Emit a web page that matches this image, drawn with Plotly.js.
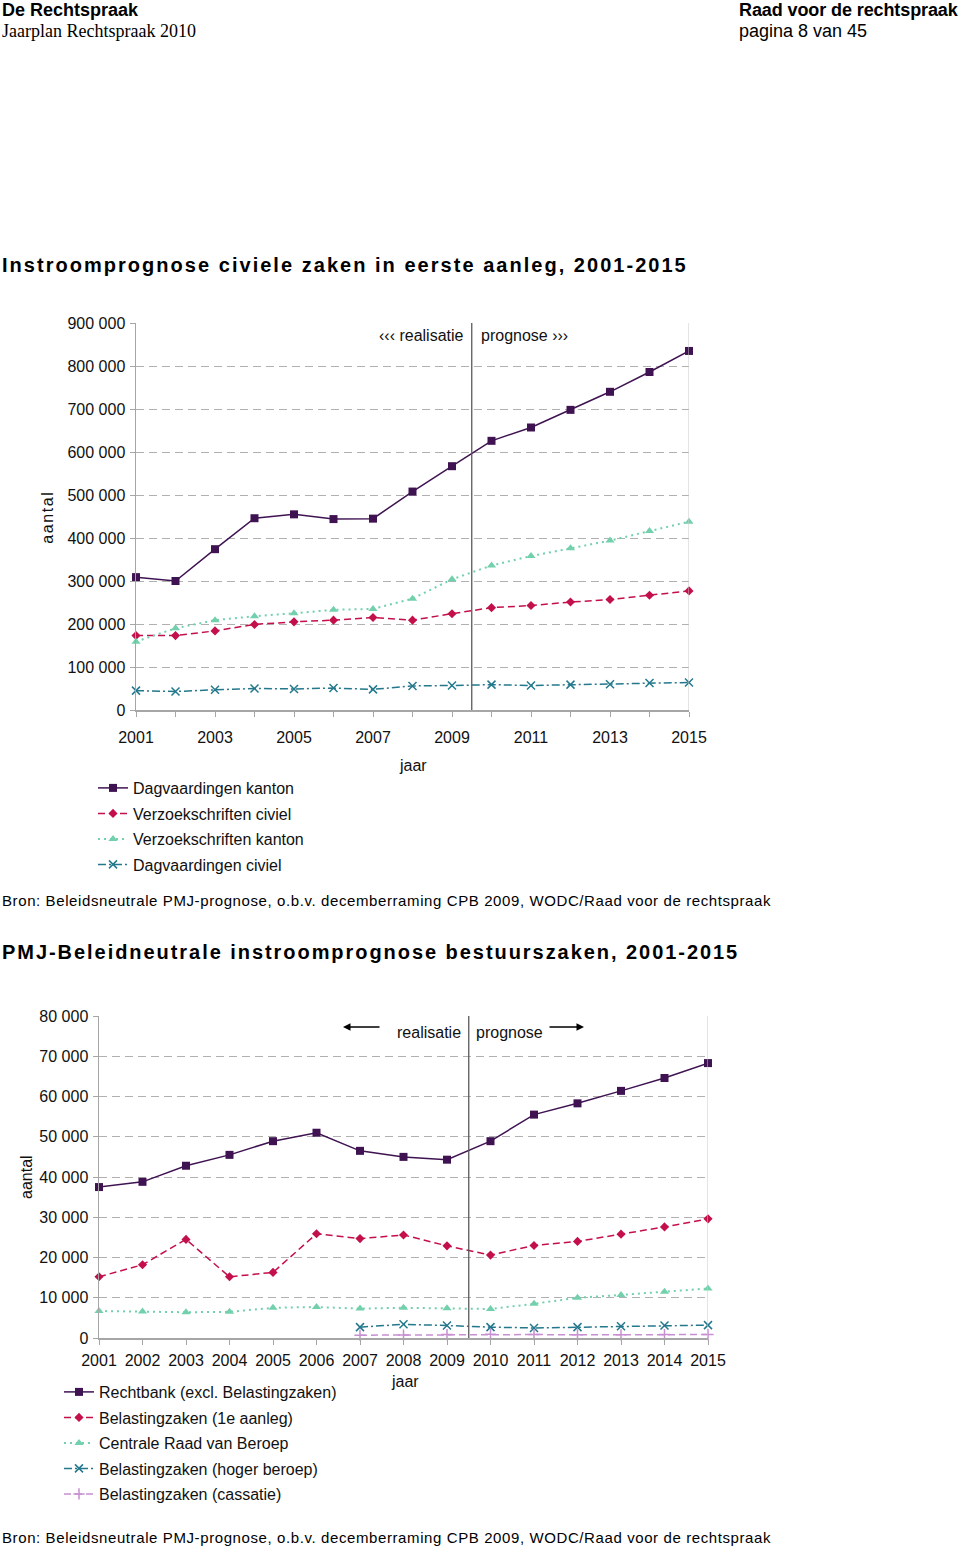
<!DOCTYPE html>
<html>
<head>
<meta charset="utf-8">
<script src="https://cdn.plot.ly/plotly-3.0.1.min.js"></script>
<style>
  html, body { margin:0; padding:0; background:#fff; }
  body { width:960px; height:1549px; position:relative; overflow:hidden; }
  #chart { position:absolute; left:0; top:0; width:960px; height:1549px; }
  .txt { position:absolute; white-space:nowrap; color:#000; font-family:"Liberation Sans", Arial, sans-serif; z-index:5; }
  .annotation[data-index="0"] text { letter-spacing:1.6px; }
</style>
</head>
<body>
<div class="txt" style="left:2px;top:1px;font-size:18px;line-height:18px;font-weight:bold;">De Rechtspraak</div>
<div class="txt" style="left:2px;top:22px;font-size:18px;line-height:18px;font-family:'Liberation Serif','Times New Roman',serif;">Jaarplan Rechtspraak 2010</div>
<div class="txt" style="left:739px;top:1px;font-size:18px;line-height:18px;font-weight:bold;letter-spacing:-0.1px;">Raad voor de rechtspraak</div>
<div class="txt" style="left:739px;top:22px;font-size:18px;line-height:18px;">pagina 8 van 45</div>

<div class="txt" style="left:2px;top:255px;font-size:20px;line-height:20px;font-weight:bold;letter-spacing:2.03px;">Instroomprognose civiele zaken in eerste aanleg, 2001-2015</div>
<div class="txt" style="left:2px;top:893px;font-size:15px;line-height:15px;letter-spacing:0.6px;">Bron: Beleidsneutrale PMJ-prognose, o.b.v. decemberraming CPB 2009, WODC/Raad voor de rechtspraak</div>
<div class="txt" style="left:2px;top:942px;font-size:20px;line-height:20px;font-weight:bold;letter-spacing:1.95px;">PMJ-Beleidneutrale instroomprognose bestuurszaken, 2001-2015</div>
<div class="txt" style="left:2px;top:1530px;font-size:15px;line-height:15px;letter-spacing:0.6px;">Bron: Beleidsneutrale PMJ-prognose, o.b.v. decemberraming CPB 2009, WODC/Raad voor de rechtspraak</div>

<div id="chart"></div>
<script>
// ---------- data ----------
var years = [2001,2002,2003,2004,2005,2006,2007,2008,2009,2010,2011,2012,2013,2014,2015];

// chart 1: Instroomprognose civiele zaken in eerste aanleg
var dagvaardingenKanton    = [309000,300000,374000,446000,455000,444000,445000,508000,567000,626000,657000,698000,740000,786000,835000];
var verzoekschriftenCiviel = [173000,173000,184000,199000,205000,209000,215000,209000,224000,238000,243000,251000,257000,267000,277000];
var verzoekschriftenKanton = [159000,190000,209000,218000,225000,233000,235000,259000,304000,336000,358000,376000,394000,416000,438000];
var dagvaardingenCiviel    = [45000,43000,47000,50000,49000,51000,48000,56000,57000,59000,57000,59000,60000,63000,64000];

// chart 2: PMJ-Beleidneutrale instroomprognose bestuurszaken
var rechtbank      = [37500,38800,42800,45500,48900,51000,46500,45000,44300,48900,55500,58300,61400,64600,68300];
var belasting1e    = [15200,18200,24500,15200,16300,25900,24700,25600,22900,20600,23000,24000,25800,27600,29600];
var centraleRaad   = [6700,6600,6400,6500,7500,7700,7300,7500,7400,7200,8500,10000,10700,11500,12300];
var belastingHoger = [null,null,null,null,null,null,2700,3400,3100,2700,2500,2700,2900,3100,3200];
var belastingCass  = [null,null,null,null,null,null,700,750,850,950,850,800,800,850,850];

var names1 = ['Dagvaardingen kanton','Verzoekschriften civiel','Verzoekschriften kanton','Dagvaardingen civiel'];
var names2 = ['Rechtbank (excl. Belastingzaken)','Belastingzaken (1e aanleg)','Centrale Raad van Beroep','Belastingzaken (hoger beroep)','Belastingzaken (cassatie)'];
var splitYear = 2009.5;

// ---------- styling ----------
var W = 960, H = 1549;
function px(x){ return x / W; }
function py(y){ return 1 - y / H; }
var FONT = '"Liberation Sans", Arial, sans-serif';
var PURPLE = '#3f1351', RED = '#c4104a', GREEN = '#72d0ac', TEAL = '#23788c', LILAC = '#c890d2';
var DASH = '7px,4px', DOT = '2px,4px', DASHDOT = '8px,3px,2px,3px';

function tr(x, y, name, color, dash, width, symbol, size, xa, ya, leg, grp){
  var m = {symbol:symbol, size:size, color:color};
  if (symbol.indexOf('thin') >= 0) m.line = {color:color, width:1.5};
  return {x:x, y:y, name:name, type:'scatter', mode:'lines+markers',
    line:{color:color, dash:dash, width:width}, marker:m,
    xaxis:xa, yaxis:ya, legend:leg, legendgroup:grp, cliponaxis:false,
    connectgaps:false, hoverinfo:'skip'};
}

var data = [
  tr(years, dagvaardingenKanton, names1[0], PURPLE, 'solid', 1.5, 'square', 8, 'x', 'y', 'legend', 'a1'),
  tr(years, verzoekschriftenCiviel, names1[1], RED, DASH, 1.5, 'diamond', 7, 'x', 'y', 'legend', 'a2'),
  tr(years, verzoekschriftenKanton, names1[2], GREEN, DOT, 2, 'triangle-up', 8, 'x', 'y', 'legend', 'a3'),
  tr(years, dagvaardingenCiviel, names1[3], TEAL, DASHDOT, 1.5, 'x-thin', 8, 'x', 'y', 'legend', 'a4'),

  tr(years, rechtbank, names2[0], PURPLE, 'solid', 1.5, 'square', 8, 'x2', 'y2', 'legend2', 'b1'),
  tr(years, belasting1e, names2[1], RED, DASH, 1.5, 'diamond', 7, 'x2', 'y2', 'legend2', 'b2'),
  tr(years, centraleRaad, names2[2], GREEN, DOT, 2, 'triangle-up', 8, 'x2', 'y2', 'legend2', 'b3'),
  tr(years, belastingHoger, names2[3], TEAL, DASHDOT, 1.5, 'x-thin', 8, 'x2', 'y2', 'legend2', 'b4'),
  tr(years, belastingCass, names2[4], LILAC, DASH, 1.5, 'cross-thin', 8, 'x2', 'y2', 'legend2', 'b5')
];

var AX = '#a6a6a6';
function xAxis(domain, dtick, minor, standoff){
  var a = {domain:domain, range:[2001,2015], tick0:2001, dtick:dtick, ticks:'outside', ticklen:5,
    tickcolor:AX, tickwidth:1, showline:true, linecolor:AX, linewidth:1.5, showgrid:false, zeroline:false,
    tickfont:{family:FONT, size:16, color:'#111'}, ticklabelstandoff:standoff, fixedrange:true};
  if (minor) a.minor = {dtick:1, tick0:2001, ticks:'outside', ticklen:5, tickcolor:AX, showgrid:false};
  return a;
}
function yAxis(domain, range, dtick, anchor){
  return {domain:domain, range:range, dtick:dtick, tickformat:',d', showgrid:true, gridcolor:'#b0b0b0',
    griddash:'8px,5px', gridwidth:1, showline:true, linecolor:AX, linewidth:1.5, ticks:'outside', ticklen:5,
    tickcolor:AX, zeroline:false, tickfont:{family:FONT, size:16, color:'#111'}, ticklabelstandoff:1,
    fixedrange:true, anchor:anchor};
}

var legendBase = {bgcolor:'rgba(0,0,0,0)', font:{family:FONT, size:16, color:'#111'}, orientation:'v',
  xanchor:'left', yanchor:'top', tracegroupgap:1.7, itemclick:false, itemdoubleclick:false};

function note(text, x, y, xa, extra){
  return Object.assign({text:text, xref:'paper', yref:'paper', x:px(x), y:py(y), xanchor:xa || 'center',
    yanchor:'middle', showarrow:false, font:{size:16, family:FONT, color:'#111'}}, extra || {});
}

var layout = {
  width:W, height:H, margin:{l:0, r:0, t:0, b:0}, paper_bgcolor:'#fff', plot_bgcolor:'rgba(0,0,0,0)',
  separators:', ', showlegend:true, hovermode:false,
  font:{family:FONT, size:16, color:'#111'},
  xaxis: Object.assign(xAxis([px(136), px(689)], 2, true, 7), {anchor:'y'}),
  yaxis: yAxis([py(710), py(323)], [0, 900000], 100000, 'x'),
  xaxis2: Object.assign(xAxis([px(99), px(708)], 1, false, 2), {anchor:'y2'}),
  yaxis2: yAxis([py(1338), py(1016)], [0, 80000], 10000, 'x2'),
  legend: Object.assign({}, legendBase, {x:px(93), y:py(771)}),
  legend2: Object.assign({}, legendBase, {x:px(59), y:py(1375)}),
  shapes: [
    {type:'line', xref:'x', yref:'y domain', x0:2015, x1:2015, y0:0, y1:1, line:{color:'#c8c8c8', width:1}},
    {type:'line', xref:'x', yref:'y domain', x0:splitYear, x1:splitYear, y0:0, y1:1, line:{color:'#5a5a5a', width:1.3}},
    {type:'line', xref:'x2', yref:'y2 domain', x0:2015, x1:2015, y0:0, y1:1, line:{color:'#c8c8c8', width:1}},
    {type:'line', xref:'x2', yref:'y2 domain', x0:splitYear, x1:splitYear, y0:0, y1:1, line:{color:'#5a5a5a', width:1.3}}
  ],
  annotations: [
    note('aantal', 47, 517, 'center', {textangle:-90}),
    note('jaar', 413, 765),
    note('\u2039\u2039\u2039 realisatie', 466, 336, 'right'),
    note('prognose \u203A\u203A\u203A', 479, 336, 'left'),
    note('aantal', 26, 1177, 'center', {textangle:-90}),
    note('jaar', 405, 1381),
    note('realisatie', 463, 1032, 'right'),
    note('prognose', 474, 1032, 'left'),
    {text:'', xref:'paper', yref:'paper', x:px(343), y:py(1027), ax:38, ay:0, axref:'pixel', ayref:'pixel', showarrow:true, arrowhead:2, arrowsize:1, arrowwidth:1.5, arrowcolor:'#000', standoff:0},
    {text:'', xref:'paper', yref:'paper', x:px(584), y:py(1027), ax:-36, ay:0, axref:'pixel', ayref:'pixel', showarrow:true, arrowhead:2, arrowsize:1, arrowwidth:1.5, arrowcolor:'#000', standoff:0}
  ]
};

Plotly.newPlot('chart', data, layout, {staticPlot:true, displayModeBar:false});
</script>
</body>
</html>
